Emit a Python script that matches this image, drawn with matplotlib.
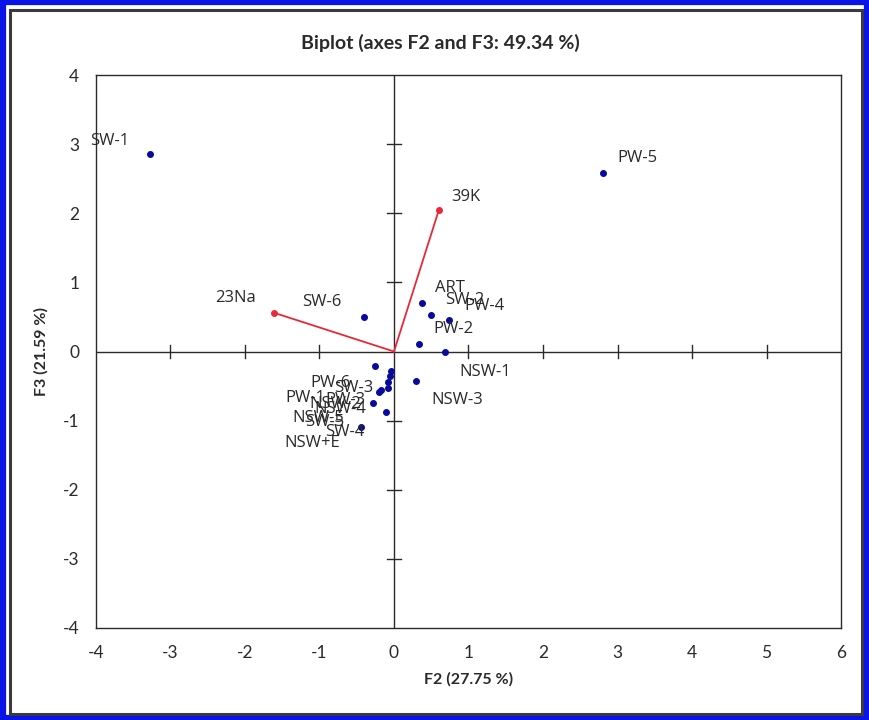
import matplotlib.pyplot as plt
from matplotlib.patches import Rectangle

plt.rcParams['axes.unicode_minus'] = False

# Observations (F2, F3 scores)
obs_names = ['SW-1', 'PW-5', 'SW-6', 'ART', 'SW-2', 'PW-4', 'PW-2', 'NSW-1', 'NSW-3',
             'PW-6', 'NSW-4', 'PW-3', 'NSW-2', 'SW-3', 'PW-1', 'NSW-5', 'SW-5', 'SW-4', 'NSW+E']
obs_f2 = [-3.28, 2.81, -0.40, 0.38, 0.50, 0.74, 0.34, 0.68, 0.30,
          -0.255, -0.04, -0.05, -0.08, -0.08, -0.17, -0.20, -0.28, -0.11, -0.44]
obs_f3 = [2.86, 2.58, 0.50, 0.70, 0.53, 0.46, 0.11, 0.00, -0.43,
          -0.21, -0.28, -0.35, -0.44, -0.53, -0.56, -0.59, -0.75, -0.88, -1.09]

# Variables (loadings)
var_names = ['39K', '23Na']
var_f2 = [0.60, -1.61]
var_f3 = [2.04, 0.56]

# label placement, pixel offsets from each point
obs_offsets = [(-40, 13), (34, 15), (-42, 15), (28, 15), (34, 15), (35, 14), (34, 15), (41, -20), (41, -19),
               (-44, -17), (-51, -38), (-45, -24), (-53, -22), (-34, 0), (-76, -8), (-61, -26), (-48, -19),
               (-41, -20), (-49, -16)]
var_offsets = [(27, 13), (-39, 15)]

label_font = 'Open Sans'
axis_font = 'Lato'
ink = '#2a2a2a'

fig = plt.figure(figsize=(8.7, 7.2), dpi=100)

# outer blue border and inner dark frame
fig.patches.append(Rectangle((0.003, 0.003), 0.994, 0.994, transform=fig.transFigure,
                             fill=False, edgecolor='#0a14e6', linewidth=4.5))
fig.patches.append(Rectangle((0.0115, 0.0085), 0.979, 0.978, transform=fig.transFigure,
                             fill=False, edgecolor='#3a3a3a', linewidth=2.2))

ax = fig.add_axes([0.1103, 0.1278, 0.8564, 0.7680])
ax.set_xlim(-4, 6)
ax.set_ylim(-4, 4)

for s in ax.spines.values():
    s.set_linewidth(1.0)
    s.set_color(ink)
ax.tick_params(length=0, labelsize=12.5, pad=12, colors=ink)
ax.set_xticks(range(-4, 7))
ax.set_yticks(range(-4, 5))
for t in ax.get_xticklabels() + ax.get_yticklabels():
    t.set_fontfamily(axis_font)

# axes through the origin with crossing ticks
ax.axhline(0, color=ink, lw=1.0, zorder=1)
ax.axvline(0, color=ink, lw=1.0, zorder=1)
for v in range(-3, 6):
    if v != 0:
        ax.plot([v, v], [-0.1, 0.1], color=ink, lw=1.0, zorder=1)
for v in range(-3, 4):
    if v != 0:
        ax.plot([-0.09, 0.09], [v, v], color=ink, lw=1.0, zorder=1)

# variable vectors
for x, y in zip(var_f2, var_f3):
    ax.plot([0, x], [0, y], color='#e8283a', lw=1.3, zorder=2)
ax.scatter(var_f2, var_f3, s=16, color='#e8283a', zorder=3)

ax.scatter(obs_f2, obs_f3, s=16, color='#0a0a9a', zorder=3)

for name, x, y, off in zip(obs_names + var_names, obs_f2 + var_f2, obs_f3 + var_f3,
                           obs_offsets + var_offsets):
    ax.annotate(name, (x, y), xytext=off, textcoords='offset pixels',
                ha='center', va='center', fontsize=12, family=label_font,
                color=ink, zorder=4)

ax.set_xlabel('F2 (27.75 %)', fontsize=11.5, fontweight='bold', family=axis_font,
              labelpad=8, color=ink)
ax.set_ylabel('F3 (21.59 %)', fontsize=11.5, fontweight='bold', family=axis_font,
              labelpad=10, color=ink)
fig.text(0.506, 0.941, 'Biplot (axes F2 and F3: 49.34 %)', ha='center', va='center',
         fontsize=14, fontweight='bold', family=axis_font, color=ink)

fig.savefig('out.png', dpi=100)
